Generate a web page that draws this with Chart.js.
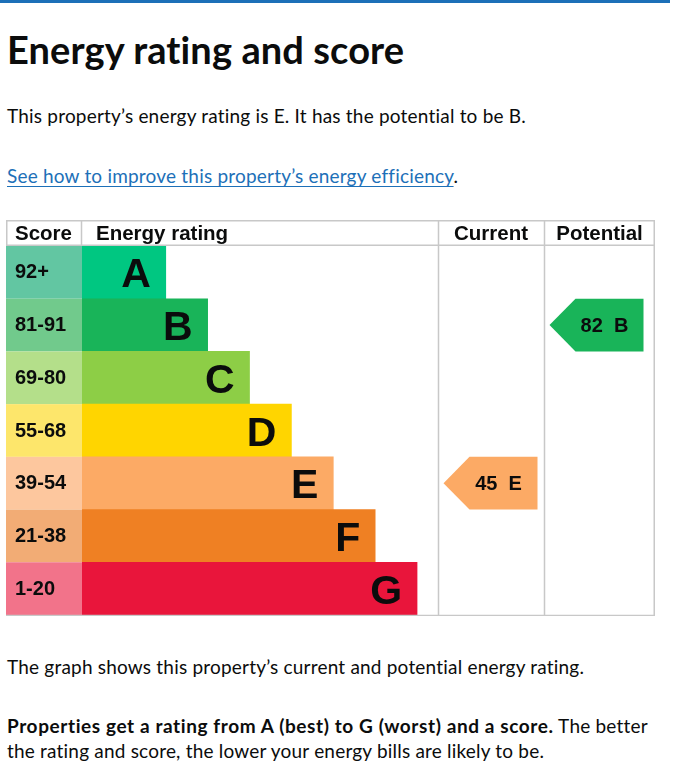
<!DOCTYPE html>
<html>
<head>
<meta charset="utf-8">
<title>Energy rating and score</title>
<script src="https://cdn.jsdelivr.net/npm/chart.js@4.4.1/dist/chart.umd.min.js"></script>
<style>
  body { margin: 0; background: #fff; color: #0b0c0c; font-family: Lato, sans-serif; }
  .page { position: relative; width: 673px; height: 768px; overflow: hidden; }
  .topline { position: absolute; left: 0; top: 0; width: 670px; height: 3px; background: #1d70b8; }
  .txt { position: absolute; left: 7px; margin: 0; white-space: nowrap; line-height: 1; }
  h1.txt { top: 30px; font-size: 38px; font-weight: 700; letter-spacing: 0.1px; }
  .p { font-size: 19px; letter-spacing: 0.2px; }
  .p strong { letter-spacing: 0.6px; }
  a { color: #1d70b8; text-decoration: underline; text-decoration-thickness: 1px; text-underline-offset: 3px; }
  .multi { line-height: 25px; }
  #epcBox { position: absolute; left: 6px; top: 220px; width: 649px; height: 396px; }
</style>
</head>
<body>
<div class="page">
  <div class="topline"></div>
  <h1 class="txt">Energy rating and score</h1>
  <p class="txt p" style="top:106px">This property’s energy rating is E. It has the potential to be B.</p>
  <p class="txt p" style="top:166px"><a href="#">See how to improve this property’s energy efficiency</a>.</p>
  <div id="epcBox"><canvas id="epcChart"></canvas></div>
  <p class="txt p" style="top:657px">The graph shows this property’s current and potential energy rating.</p>
  <p class="txt p multi" style="top:713px"><strong>Properties get a rating from A (best) to G (worst) and a score.</strong> The better<br>the rating and score, the lower your energy bills are likely to be.</p>
</div>
<script>
// bandas de la escala EPC
const ratings = ['A', 'B', 'C', 'D', 'E', 'F', 'G'];
const scoreBands = ['92+', '81-91', '69-80', '55-68', '39-54', '21-38', '1-20'];
const bandMins = [92, 81, 69, 55, 39, 21, 1];
const barSteps = [2, 3, 4, 5, 6, 7, 8];
const bandColours = ['#00c781', '#19b459', '#8dce46', '#ffd500', '#fcaa65', '#ef8023', '#e9153b'];
const scoreColours = ['#62c6a2', '#71ca8c', '#b4df8a', '#fde66b', '#fdc79e', '#f2ac75', '#f2738a'];
const columnHeaders = ['Score', 'Energy rating', 'Current', 'Potential'];
const currentScore = 45;
const potentialScore = 82;

const textColour = '#0b0c0c';
const lineColour = '#c8c8c8';
const currentColWidth = 106;

function bandFor(score) {
    return bandMins.findIndex(m => score >= m);
}

const tablePlugin = {
    id: 'epcTable',
    beforeDatasetsDraw(chart) {
        const { ctx, chartArea, scales: { y } } = chart;
        const rowH = (y.bottom - y.top) / ratings.length;
        // celdas de puntuacion
        ratings.forEach((r, i) => {
            const cy = y.getPixelForValue(i);
            ctx.fillStyle = scoreColours[i];
            ctx.fillRect(0, cy - rowH / 2, chartArea.left, rowH);
        });
    },
    afterDatasetsDraw(chart) {
        const { ctx, chartArea, scales: { x, y } } = chart;
        const W = chart.width;
        const rowH = (y.bottom - y.top) / ratings.length;
        const curLeft = chartArea.right;
        const potLeft = chartArea.right + currentColWidth;

        ctx.save();
        // lineas de la tabla
        ctx.strokeStyle = lineColour;
        ctx.lineWidth = 1.5;
        ctx.beginPath();
        ctx.moveTo(0, 0.75); ctx.lineTo(W, 0.75);
        ctx.moveTo(0, chartArea.top - 0.75); ctx.lineTo(W, chartArea.top - 0.75);
        ctx.moveTo(0, chartArea.bottom + 0.5); ctx.lineTo(W, chartArea.bottom + 0.5);
        ctx.moveTo(0.75, 0); ctx.lineTo(0.75, chartArea.top);
        ctx.moveTo(chartArea.left - 0.5, 0); ctx.lineTo(chartArea.left - 0.5, chartArea.top);
        ctx.moveTo(curLeft + 0.5, 0); ctx.lineTo(curLeft + 0.5, chartArea.bottom + 1);
        ctx.moveTo(potLeft + 0.5, 0); ctx.lineTo(potLeft + 0.5, chartArea.bottom + 1);
        ctx.moveTo(W - 0.75, 0); ctx.lineTo(W - 0.75, chartArea.bottom + 1);
        ctx.stroke();

        // cabeceras
        ctx.fillStyle = textColour;
        ctx.font = 'bold 20.5px "Liberation Sans", Arial, sans-serif';
        ctx.textBaseline = 'alphabetic';
        const hy = chartArea.top - 6;
        ctx.textAlign = 'left';
        ctx.fillText(columnHeaders[0], 9, hy);
        ctx.fillText(columnHeaders[1], chartArea.left + 14, hy);
        ctx.textAlign = 'center';
        ctx.fillText(columnHeaders[2], curLeft + currentColWidth / 2, hy);
        ctx.fillText(columnHeaders[3], (potLeft + W) / 2, hy);

        // rangos y letras
        ratings.forEach((r, i) => {
            const cy = y.getPixelForValue(i);
            ctx.font = 'bold 20px "Liberation Sans", Arial, sans-serif';
            ctx.textAlign = 'left';
            ctx.fillText(scoreBands[i], 9, cy + 6);
            ctx.font = 'bold 41px "Liberation Sans", Arial, sans-serif';
            ctx.textAlign = 'right';
            ctx.fillText(r, x.getPixelForValue(barSteps[i]) - 15, cy + 15);
        });

        // flechas actual / potencial
        [[currentScore, curLeft], [potentialScore, potLeft]].forEach(([score, colLeft]) => {
            const b = bandFor(score);
            const cy = y.getPixelForValue(b);
            const top = cy - rowH / 2, bottom = cy + rowH / 2;
            const left = colLeft + 5.5, right = left + 94, tip = 26;
            ctx.fillStyle = bandColours[b];
            ctx.beginPath();
            ctx.moveTo(left, cy);
            ctx.lineTo(left + tip, top);
            ctx.lineTo(right, top);
            ctx.lineTo(right, bottom);
            ctx.lineTo(left + tip, bottom);
            ctx.closePath();
            ctx.fill();
            ctx.fillStyle = textColour;
            ctx.font = 'bold 20px "Liberation Sans", Arial, sans-serif';
            ctx.textAlign = 'center';
            ctx.fillText(score + '  ' + ratings[b], left + 55, cy + 7);
        });
        ctx.restore();
    }
};

new Chart(document.getElementById('epcChart'), {
    type: 'bar',
    data: {
        labels: ratings,
        datasets: [{
            data: barSteps,
            backgroundColor: bandColours,
            borderWidth: 0,
            barPercentage: 1,
            categoryPercentage: 1
        }]
    },
    options: {
        indexAxis: 'y',
        responsive: true,
        maintainAspectRatio: false,
        animation: false,
        layout: { padding: { left: 76, right: 217, top: 26, bottom: 1 } },
        scales: {
            x: { display: false, min: 0, max: 8.5 },
            y: { display: false }
        },
        plugins: {
            legend: { display: false },
            tooltip: { enabled: false }
        }
    },
    plugins: [tablePlugin]
});
</script>
</body>
</html>
